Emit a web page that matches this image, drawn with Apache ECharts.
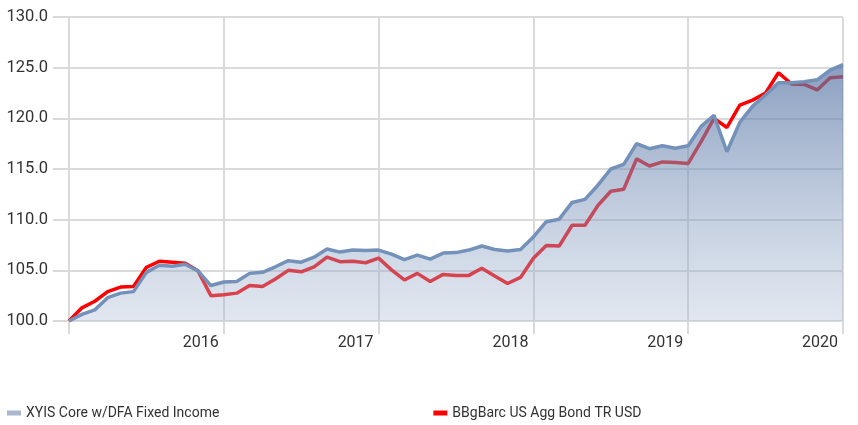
<!DOCTYPE html>
<html>
<head>
<meta charset="utf-8">
<script src="https://cdn.jsdelivr.net/npm/echarts@6/dist/echarts.min.js"></script>
<style>
  html, body { margin: 0; padding: 0; background: #fff; }
  #chart { width: 858px; height: 425px; }
</style>
</head>
<body>
<div id="chart"></div>
<script>
// month-end points, Jan 2015 .. Jan 2020
const months = [];
for (let y = 2015; y <= 2020; y++) {
  for (let m = 1; m <= 12; m++) {
    if (y === 2020 && m > 1) break;
    months.push(y + '-' + (m < 10 ? '0' + m : m));
  }
}
const yearTicks = ['2016', '2017', '2018', '2019', '2020'];

const xyis = [
  100.0, 100.65, 101.1, 102.3, 102.75, 102.9, 104.8, 105.5, 105.4, 105.6, 104.95, 103.5,
  103.85, 103.9, 104.7, 104.8, 105.35, 105.95, 105.8, 106.3, 107.1, 106.8, 107.0, 106.95,
  107.0, 106.6, 106.05, 106.5, 106.1, 106.7, 106.75, 107.0, 107.4, 107.05, 106.9, 107.05,
  108.3, 109.8, 110.05, 111.7, 112.0, 113.4, 115.0, 115.45, 117.5, 117.0, 117.3, 117.05,
  117.3, 119.2, 120.3, 116.7, 119.6, 121.2, 122.3, 123.5, 123.5, 123.6, 123.8, 124.75,
  125.3
];
const bbgbarc = [
  100.0, 101.3, 101.95, 102.9, 103.35, 103.4, 105.3, 105.9, 105.8, 105.7, 104.95, 102.5,
  102.6, 102.75, 103.5, 103.4, 104.15, 105.0, 104.85, 105.35, 106.3, 105.85, 105.9, 105.75,
  106.2, 105.05, 104.05, 104.7, 103.9, 104.6, 104.5, 104.5, 105.2, 104.45, 103.7, 104.3,
  106.2, 107.45, 107.4, 109.45, 109.45, 111.4, 112.8, 113.0, 116.0, 115.3, 115.7, 115.65,
  115.55, 117.7, 120.0, 119.1, 121.3, 121.8, 122.5, 124.5, 123.4, 123.35, 122.8, 124.0,
  124.1
];

const gridColor = '#dadada';
const textColor = '#333';

const myChart = echarts.init(document.getElementById('chart'));

myChart.setOption({
  animation: false,
  grid: {
    left: 69,
    right: 15,
    top: 17,
    bottom: 104,
    containLabel: false,
  },
  legend: {
    left: 2,
    top: 401,
    icon: 'rect',
    itemWidth: 14,
    itemHeight: 5,
    itemGap: 214,
    textStyle: {
      fontFamily: 'Roboto',
      fontSize: 14,
      color: textColor,
    },
    data: [
      { name: 'XYIS Core w/DFA Fixed Income', itemStyle: { color: '#a9b8cf' } },
      { name: 'BBgBarc US Agg Bond TR USD', itemStyle: { color: '#ff0000' } },
    ],
  },
  xAxis: {
    type: 'category',
    data: months,
    boundaryGap: false,
    axisLine: { show: false },
    axisTick: {
      show: true,
      interval: 11,
      length: 13,
      lineStyle: { color: gridColor, width: 2 },
    },
    axisLabel: {
      interval: 11,
      align: 'right',
      padding: [0, 5, 0, 0],
      margin: 14,
      fontFamily: 'Roboto',
      fontSize: 16,
      color: textColor,
      formatter: function (v, i) {
        return i > 0 ? yearTicks[i / 12 - 1] : '';
      },
    },
    splitLine: {
      show: true,
      interval: 11,
      lineStyle: { color: gridColor, width: 2 },
    },
  },
  yAxis: {
    type: 'value',
    min: 100,
    max: 130,
    interval: 5,
    axisLine: { show: false },
    axisTick: {
      show: true,
      length: 16,
      lineStyle: { color: gridColor, width: 2 },
    },
    axisLabel: {
      margin: 21,
      fontFamily: 'Roboto',
      fontSize: 16.5,
      color: textColor,
      formatter: function (v) {
        return v.toFixed(1);
      },
    },
    splitLine: {
      lineStyle: { color: gridColor, width: 2 },
    },
  },
  series: [
    {
      // drawn under the XYIS area, so it shows muted where covered
      name: 'BBgBarc US Agg Bond TR USD',
      type: 'line',
      z: 1,
      data: bbgbarc,
      symbol: 'none',
      lineStyle: { color: '#ff0000', width: 3.5 },
      itemStyle: { color: '#ff0000' },
    },
    {
      name: 'XYIS Core w/DFA Fixed Income',
      type: 'line',
      z: 2,
      data: xyis,
      symbol: 'none',
      lineStyle: { color: '#7391b9', width: 3.5 },
      itemStyle: { color: '#a9b8cf' },
      areaStyle: {
        opacity: 1,
        color: new echarts.graphic.LinearGradient(0, 0, 0, 1, [
          { offset: 0, color: 'rgba(88,118,165,0.7)' },
          { offset: 1, color: 'rgba(164,182,209,0.33)' },
        ]),
      },
    },
  ],
});
</script>
</body>
</html>
